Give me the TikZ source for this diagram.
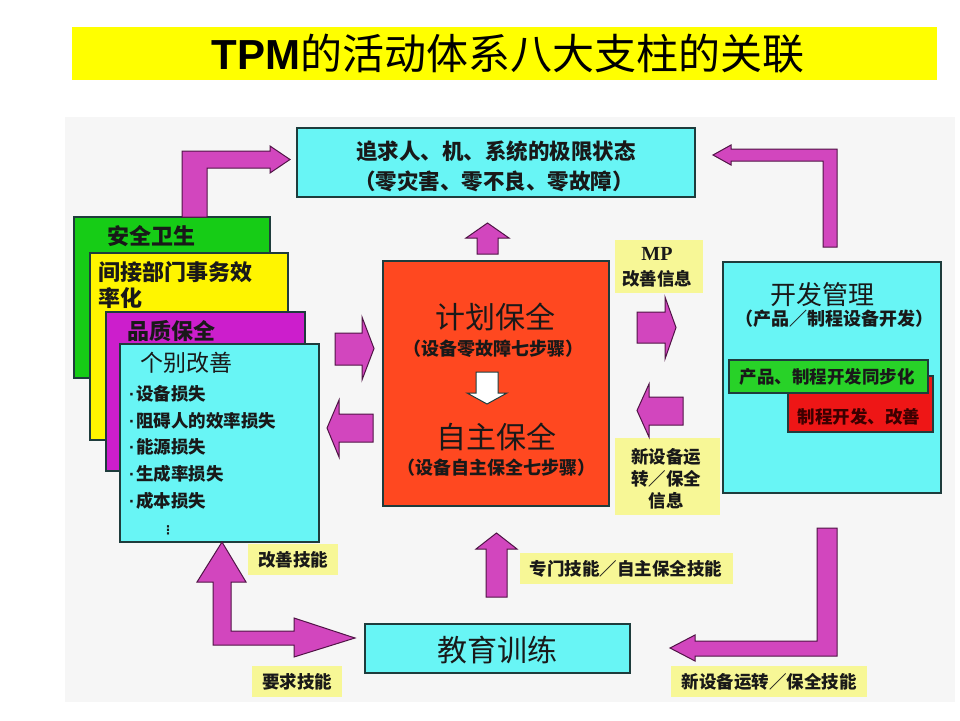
\documentclass[tikz,border=0pt]{standalone}
\usepackage{fontspec}
\setmainfont{Noto Sans CJK SC}
\newfontfamily\arialf{Liberation Sans}
\newfontfamily\timesf{Liberation Serif}
\newfontfamily\dejavu{DejaVu Sans}
\definecolor{ccyan}{RGB}{104,245,245}
\definecolor{cgreen}{RGB}{22,204,22}
\definecolor{cyellow}{RGB}{255,245,0}
\definecolor{cmag}{RGB}{204,30,204}
\definecolor{cred}{RGB}{255,72,32}
\definecolor{cred2}{RGB}{238,22,22}
\definecolor{cgreen2}{RGB}{40,210,40}
\definecolor{amag}{RGB}{210,70,190}
\definecolor{aline}{RGB}{80,20,70}
\definecolor{labyel}{RGB}{247,247,150}
\definecolor{panel}{RGB}{246,246,246}
\definecolor{tyellow}{RGB}{255,255,0}
\definecolor{bline}{RGB}{30,60,60}
\definecolor{ink}{RGB}{25,25,25}
\newcommand{\bdot}{{\arialf\bfseries ·}\kern1pt}
\tikzset{
  box/.style={draw=bline, line width=1.2pt, inner sep=0pt, outer sep=0pt, anchor=north west},
  lab/.style={fill=labyel, inner sep=0pt, outer sep=0pt, anchor=north west},
  marrow/.style={fill=amag, draw=aline, line width=1pt, line join=miter},
  tb/.style={inner sep=0pt, text=ink, font=\fontsize{17.5}{21}\selectfont\bfseries},
  tbl/.style={inner sep=0pt, text=ink, font=\fontsize{22}{26}\selectfont\bfseries},
  tbig/.style={inner sep=0pt, text=ink, font=\fontsize{30}{34}\selectfont},
}
\begin{document}
\begin{tikzpicture}[x=1pt,y=-1pt]
\useasboundingbox (0,0) rectangle (960,720);
\fill[white] (0,0) rectangle (960,720);
\fill[panel] (65,117) rectangle (955,702);

% title
\node[fill=tyellow, minimum width=865, minimum height=53, anchor=north west, inner sep=0pt] (titlebar) at (72,27) {};
\node[inner sep=0pt] (title) at (508,54) {\fontsize{42}{46}\selectfont{\arialf\bfseries TPM}的活动体系八大支柱的关联};

% top goal box
\node[box, fill=ccyan, minimum width=398, minimum height=69] (goal) at (297,128) {};
\node[tbl, font=\fontsize{21.5}{25}\selectfont\bfseries] (goal1) at (496,151) {追求人、机、系统的极限状态};
\node[tbl, font=\fontsize{21.5}{25}\selectfont\bfseries] (goal2) at (494,181) {（零灾害、零不良、零故障）};

% left stack
\node[box, fill=cgreen, minimum width=196, minimum height=161] (safety) at (74,217) {};
\node[box, fill=cyellow, minimum width=198, minimum height=187] (office) at (90,253) {};
\node[box, fill=cmag, minimum width=199, minimum height=159] (quality) at (106,312) {};
\node[box, fill=ccyan, minimum width=199, minimum height=198] (focused) at (120,344) {};
\node[tbl, anchor=west] (safetyt) at (107,236) {安全卫生};
\node[tbl, anchor=west] (officet1) at (98,272) {间接部门事务效};
\node[tbl, anchor=west] (officet2) at (98,298) {率化};
\node[tbl, anchor=west] (qualityt) at (127,331) {品质保全};
\node[tbig, font=\fontsize{23}{26}\selectfont, anchor=west] (focusedt) at (140,363) {个别改善};
\node[tb, anchor=west] (b1) at (129,394) {\bdot 设备损失};
\node[tb, anchor=west] (b2) at (129,421) {\bdot 阻碍人的效率损失};
\node[tb, anchor=west] (b3) at (129,447) {\bdot 能源损失};
\node[tb, anchor=west] (b4) at (129,474) {\bdot 生成率损失};
\node[tb, anchor=west] (b5) at (129,501) {\bdot 成本损失};
\node[inner sep=0pt, text=ink] (b6) at (168,530) {\dejavu\fontsize{12}{14}\selectfont\bfseries ⋮};

% center box
\node[box, fill=cred, minimum width=226, minimum height=245] (center) at (383,261) {};
\node[tbig] (plan) at (495,317) {计划保全};
\node[tb, font=\fontsize{18}{21}\selectfont\bfseries] (plan2) at (493,349) {（设备零故障七步骤）};
\path[fill=white, draw=bline, line width=1pt] (476,372) -- (498,372) -- (498,393) -- (507,393) -- (487,404) -- (467,393) -- (476,393) -- cycle;
\node[tbig] (auto) at (496,437) {自主保全};
\node[tb, font=\fontsize{18}{21}\selectfont\bfseries] (auto2) at (496,468) {（设备自主保全七步骤）};

% development box
\node[box, fill=ccyan, minimum width=218, minimum height=231] (dev) at (723,262) {};
\node[tbig, font=\fontsize{26}{30}\selectfont] (devt) at (822,295) {开发管理};
\node[tb, font=\fontsize{18}{21}\selectfont\bfseries] (devt2) at (834,319) {（产品／制程设备开发）};
\node[box, fill=cred2, minimum width=145, minimum height=56] (proc) at (788,376) {};
\node[box, fill=cgreen2, minimum width=199, minimum height=33] (sync) at (729,360) {};
\node[tb] (synct) at (827,377) {产品、制程开发同步化};
\node[tb, text={rgb,255:red,60;green,0;blue,0}] (proct) at (859,417) {制程开发、改善};

% education box
\node[box, fill=ccyan, minimum width=265, minimum height=49] (edu) at (365,624) {};
\node[tbig] (edut) at (497,650) {教育训练};

% labels
\node[lab, minimum width=88, minimum height=53] (mplab) at (615,240) {};
\node[inner sep=0pt, text=ink] (mpt1) at (657,254) {\timesf\bfseries\fontsize{20}{23}\selectfont MP};
\node[tb] (mpt2) at (657,279) {改善信息};
\node[lab, minimum width=105, minimum height=77] (newlab) at (615,438) {};
\node[tb] (nl1) at (666,457) {新设备运};
\node[tb] (nl2) at (666,479) {转／保全};
\node[tb] (nl3) at (666,501) {信息};
\node[lab, minimum width=90, minimum height=31] (kaizenlab) at (248,544) {};
\node[tb] (kaizent) at (293,560) {改善技能};
\node[lab, minimum width=90, minimum height=31] (reqlab) at (252,666) {};
\node[tb] (reqt) at (297,682) {要求技能};
\node[lab, minimum width=213, minimum height=31] (speclab) at (520,553) {};
\node[tb] (spect) at (626,569) {专门技能／自主保全技能};
\node[lab, minimum width=196, minimum height=31] (newsklab) at (671,666) {};
\node[tb] (newskt) at (769,682) {新设备运转／保全技能};

% magenta arrows
% top-left bent
\path[marrow] (182,217) -- (182,151) -- (270,151) -- (270,146) -- (290,159.5) -- (270,173) -- (270,168) -- (207,168) -- (207,217) -- cycle;
% top-right bent
\path[marrow] (837,247) -- (837,149) -- (731,149) -- (731,145) -- (713,155) -- (731,165) -- (731,161) -- (823,161) -- (823,247) -- cycle;
% bottom-right bent
\path[marrow] (817,528) -- (837,528) -- (837,656) -- (695,656) -- (695,661) -- (670,648) -- (695,635) -- (695,641) -- (817,641) -- cycle;
% bottom-left double
\path[marrow] (222,542) -- (246,582) -- (231,582) -- (231,631) -- (294,631) -- (294,618) -- (355,638) -- (294,657) -- (294,645) -- (213,645) -- (213,582) -- (197,582) -- cycle;
% up arrow to goal
\path[marrow] (477,254) -- (477,238) -- (466,238) -- (487.5,223) -- (509,238) -- (498,238) -- (498,254) -- cycle;
% up arrow from education
\path[marrow] (486,597) -- (486,549) -- (476,549) -- (496.5,533) -- (517,549) -- (507,549) -- (507,597) -- cycle;
% left side arrows
\path[marrow] (335,333) -- (362,333) -- (362,317) -- (374,348.5) -- (362,380) -- (362,365) -- (335,365) -- cycle;
\path[marrow] (373,414) -- (339,414) -- (339,400) -- (327,428) -- (339,457) -- (339,442) -- (373,442) -- cycle;
% right side arrows
\path[marrow] (637,312) -- (665,312) -- (665,297) -- (676,327.5) -- (665,359) -- (665,343) -- (637,343) -- cycle;
\path[marrow] (683,397) -- (649,397) -- (649,384) -- (637,410.5) -- (649,437) -- (649,425) -- (683,425) -- cycle;
\end{tikzpicture}
\end{document}
